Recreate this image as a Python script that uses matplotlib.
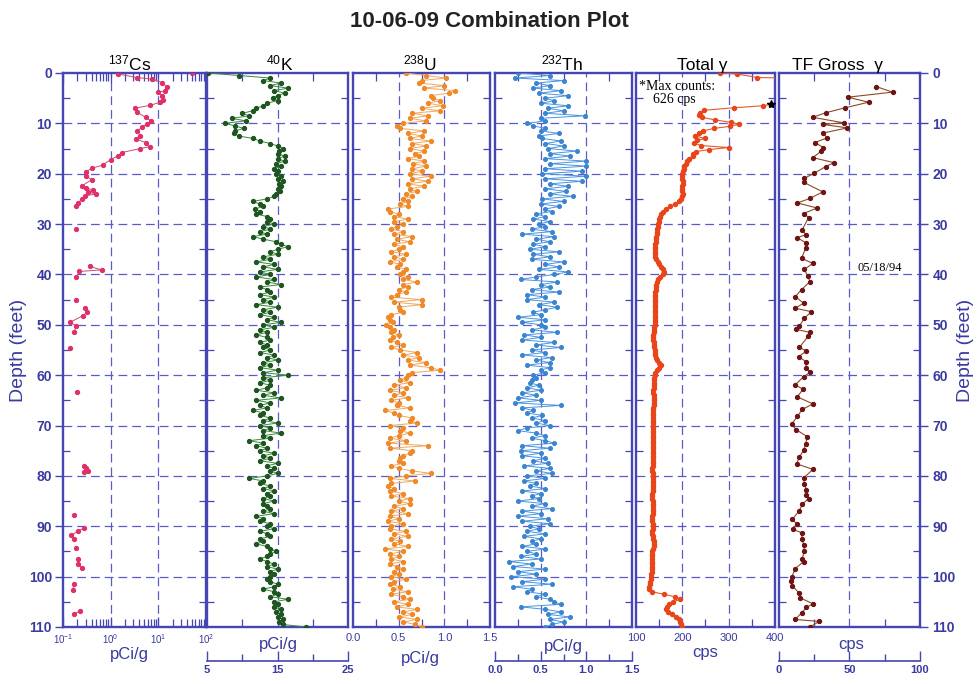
import numpy as np
import matplotlib
matplotlib.use("Agg")
import matplotlib.pyplot as plt
from matplotlib.ticker import FixedLocator, NullFormatter, LogLocator, NullLocator

plt.rcParams['font.family'] = ['Liberation Sans', 'DejaVu Sans']
plt.rcParams['mathtext.fontset'] = 'custom'
plt.rcParams['mathtext.rm'] = 'Liberation Sans'
plt.rcParams['mathtext.it'] = 'Liberation Sans:italic'
plt.rcParams['mathtext.bf'] = 'Liberation Sans:bold'

# ---------------- data ----------------
DEPTH_STEP = 0.5  # logging sample interval (ft)

# 137Cs (pCi/g), nan breaks the connecting line
cs_depth = [0.0, np.nan,
            0.2, 0.9, 1.2, 1.9, 2.8, 3.5, 3.8, 4.5, 5.3, 5.8, 6.4, 7.0, 7.8, 8.8, 9.5, 10.1, 10.8,
            11.5, 12.5, 13.1, 13.8, 14.6, 15.0, 15.8, 16.4, 17.2, 18.3, 18.9, 19.7, 20.5, 21.2,
            22.4, 22.9, 23.2, 23.7, 24.0, 24.4, 25.0, 25.8, 26.5, np.nan,
            31.0, np.nan, 38.4, 39.1, 39.4, 40.6, np.nan, 45.0, np.nan,
            46.6, 47.5, 48.2, 49.5, 50.2, 51.5, np.nan, 54.7, np.nan, 63.4, np.nan,
            78.0, 78.5, 79.0, 79.3, np.nan, 87.8, np.nan, 90.4, 90.9, 91.8, 92.5, np.nan,
            94.4, np.nan, 96.4, 97.4, 98.3, np.nan, 101.4, 102.7, np.nan, 106.8, 107.4]
cs_pci = [51.0, np.nan,
          1.45, 3.5, 7.4, 12.0, 15.1, 14.1, 10.0, 12.0, 12.6, 11.0, 6.8, 3.2, 3.6, 5.4, 7.1, 5.8, 4.5,
          3.6, 4.2, 3.4, 5.4, 6.8, 4.2, 1.7, 1.45, 1.0, 0.68, 0.40, 0.30, 0.31, 0.40,
          0.25, 0.31, 0.43, 0.34, 0.50, 0.29, 0.25, 0.21, 0.19, np.nan,
          0.19, np.nan, 0.36, 0.65, 0.22, 0.19, np.nan, 0.19, np.nan,
          0.29, 0.32, 0.26, 0.14, 0.19, 0.17, np.nan, 0.14, np.nan, 0.20, np.nan,
          0.28, 0.31, 0.33, 0.28, np.nan, 0.17, np.nan, 0.28, 0.21, 0.15, 0.17, np.nan,
          0.19, np.nan, 0.21, 0.21, 0.25, np.nan, 0.17, 0.16, np.nan, 0.23, 0.17]

# 40K (pCi/g), every 0.5 ft from 0 to 110
k_pci = [5.2, 9.5, 14.0, 13.0, 15.5, 14.0, 16.5, 14.5, 16.0, 15.0, 14.3, 15.0, 13.5, 13.0, 12.0, 11.5, 10.0, 11.0, 8.5, 10.5,
         7.5, 9.0, 10.2, 9.0, 8.8, 9.5, 11.5, 12.5, 14.0, 15.0, 15.8, 15.2, 15.0, 16.0, 15.0, 16.0, 14.8, 15.5, 14.5, 15.0,
         14.8, 15.5, 15.0, 15.8, 15.2, 15.5, 15.0, 15.3, 14.8, 14.5, 13.5, 11.5, 12.5, 13.0, 11.8, 12.5, 12.0, 13.5, 14.0, 13.5,
         14.5, 13.0, 14.0, 12.5, 13.5, 11.5, 13.0, 14.8, 15.5, 16.5, 15.0, 14.0, 15.0, 13.0, 14.0, 12.0, 14.5, 13.0, 15.0, 12.5,
         14.0, 12.0, 14.5, 13.5, 15.5, 12.5, 13.5, 14.0, 12.5, 14.5, 13.0, 14.0, 12.0, 15.0, 13.0, 14.0, 12.5, 14.5, 13.5, 15.5,
         13.0, 14.5, 12.5, 13.5, 12.0, 13.5, 14.0, 12.5, 13.5, 13.0, 14.0, 12.5, 14.5, 13.5, 15.0, 13.0, 14.0, 12.5, 15.0, 13.0,
         16.5, 13.0, 14.0, 12.5, 14.0, 13.5, 12.0, 14.5, 13.0, 15.5, 12.0, 14.0, 12.5, 13.5, 11.5, 13.0, 12.5, 14.0, 13.0, 15.0,
         12.5, 14.0, 13.0, 15.5, 13.0, 14.0, 11.0, 13.0, 12.0, 13.5, 12.5, 14.5, 13.0, 14.0, 12.5, 15.0, 13.5, 14.5, 14.0, 15.0,
         13.5, 11.0, 13.0, 12.5, 14.0, 13.0, 14.5, 13.5, 14.0, 13.0, 14.5, 13.0, 13.5, 14.0, 13.0, 14.5, 12.0, 13.0, 12.5, 14.0,
         13.5, 14.5, 12.5, 13.5, 14.0, 12.5, 13.0, 12.0, 13.5, 14.0, 14.8, 14.0, 13.5, 12.5, 13.5, 14.5, 13.5, 15.0, 14.0, 14.5,
         14.0, 13.5, 14.0, 15.0, 14.5, 13.0, 14.5, 15.0, 14.0, 16.5, 14.5, 15.0, 14.5, 15.5, 14.8, 15.5, 15.0, 15.8, 15.2, 15.8,
         19.0]

# 238U (pCi/g), every 0.5 ft
u_pci = [0.58, 0.80, 1.02, 0.75, 0.72, 1.00, 0.78, 1.12, 1.05, 0.85, 0.88, 0.95, 0.82, 0.98, 0.75, 0.95, 0.65, 0.82, 0.62, 0.80,
         0.55, 0.48, 0.52, 0.78, 0.60, 0.75, 0.62, 0.85, 0.65, 0.80, 0.62, 0.78, 0.68, 0.72, 0.60, 0.78, 0.66, 0.80, 0.65, 0.75,
         0.62, 0.85, 0.65, 0.82, 0.60, 0.78, 0.62, 0.70, 0.58, 0.65, 0.55, 0.60, 0.52, 0.60, 0.38, 0.40, 0.50, 0.45, 0.60, 0.45,
         0.55, 0.48, 0.42, 0.55, 0.45, 0.65, 0.48, 0.62, 0.45, 0.55, 0.50, 0.42, 0.58, 0.45, 0.55, 0.40, 0.52, 0.48, 0.58, 0.55,
         0.52, 0.60, 0.55, 0.70, 0.55, 0.60, 0.50, 0.58, 0.48, 0.42, 0.75, 0.45, 0.75, 0.50, 0.52, 0.55, 0.42, 0.38, 0.40, 0.44,
         0.36, 0.40, 0.45, 0.42, 0.50, 0.44, 0.40, 0.48, 0.55, 0.42, 0.52, 0.70, 0.55, 0.72, 0.60, 0.80, 0.62, 0.85, 0.95, 0.65,
         0.60, 0.58, 0.52, 0.62, 0.45, 0.58, 0.40, 0.55, 0.45, 0.60, 0.42, 0.50, 0.48, 0.62, 0.35, 0.45, 0.50, 0.65, 0.62, 0.70,
         0.40, 0.55, 0.52, 0.62, 0.50, 0.40, 0.58, 0.38, 0.82, 0.40, 0.65, 0.62, 0.55, 0.52, 0.50, 0.55, 0.42, 0.50, 0.65, 0.85,
         0.58, 0.40, 0.68, 0.42, 0.38, 0.45, 0.40, 0.55, 0.42, 0.62, 0.50, 0.62, 0.45, 0.55, 0.42, 0.60, 0.40, 0.50, 0.38, 0.55,
         0.42, 0.40, 0.58, 0.45, 0.60, 0.42, 0.52, 0.45, 0.60, 0.35, 0.55, 0.40, 0.50, 0.42, 0.55, 0.40, 0.48, 0.55, 0.45, 0.50,
         0.42, 0.58, 0.45, 0.40, 0.52, 0.44, 0.60, 0.42, 0.55, 0.62, 0.45, 0.60, 0.48, 0.70, 0.55, 0.65, 0.50, 0.70, 0.55, 0.68,
         0.75]

# 232Th (pCi/g), every 0.5 ft
th_pci = [0.25, 0.60, 0.22, 0.75, 0.45, 0.60, 0.42, 0.72, 0.48, 0.80, 0.55, 0.65, 0.50, 0.80, 0.58, 0.75, 0.55, 0.98, 0.50, 0.55,
          0.35, 0.42, 0.55, 0.50, 0.70, 0.48, 0.52, 0.72, 0.55, 0.75, 0.58, 0.90, 0.60, 0.82, 0.55, 1.00, 0.60, 1.00, 0.55, 0.95,
          0.52, 1.00, 0.55, 0.95, 0.60, 0.80, 0.55, 0.78, 0.60, 0.85, 0.52, 0.75, 0.50, 0.70, 0.55, 0.62, 0.45, 0.55, 0.42, 0.60,
          0.48, 0.55, 0.40, 0.62, 0.30, 0.65, 0.45, 0.60, 0.42, 0.55, 0.38, 0.70, 0.42, 0.60, 0.40, 0.75, 0.55, 0.70, 0.48, 0.80,
          0.65, 0.45, 0.28, 0.68, 0.50, 0.60, 0.40, 0.70, 0.35, 0.55, 0.35, 0.65, 0.48, 0.68, 0.55, 0.42, 0.50, 0.25, 0.55, 0.30,
          0.50, 0.55, 0.40, 0.68, 0.32, 0.50, 0.30, 0.65, 0.45, 0.72, 0.40, 0.55, 0.30, 0.62, 0.45, 0.60, 0.35, 0.60, 0.50, 0.55,
          0.42, 0.45, 0.40, 0.38, 0.48, 0.35, 0.50, 0.30, 0.45, 0.25, 0.50, 0.22, 0.72, 0.30, 0.42, 0.35, 0.52, 0.40, 0.55, 0.45,
          0.60, 0.35, 0.25, 0.45, 0.55, 0.40, 0.55, 0.65, 0.30, 0.60, 0.28, 0.50, 0.30, 0.55, 0.42, 0.58, 0.32, 0.60, 0.45, 0.62,
          0.35, 0.55, 0.32, 0.45, 0.38, 0.55, 0.30, 0.50, 0.40, 0.48, 0.25, 0.55, 0.40, 0.62, 0.30, 0.50, 0.25, 0.58, 0.30, 0.60,
          0.38, 0.48, 0.35, 0.55, 0.32, 0.50, 0.40, 0.45, 0.30, 0.55, 0.35, 0.45, 0.28, 0.50, 0.15, 0.40, 0.20, 0.55, 0.25, 0.45,
          0.18, 0.55, 0.30, 0.62, 0.20, 0.40, 0.35, 0.55, 0.45, 0.60, 0.65, 0.72, 0.28, 0.55, 0.72, 0.58, 0.82, 0.60, 0.75, 0.62,
          0.55]

# Total gamma (cps): upper irregular part, then every 0.5 ft from 20 ft
total_top_depth = [0.0, 0.2, 0.9, 1.3, 6.2, 6.5, 6.9, 7.4, 7.9, 8.3, 8.8, 9.3, 9.8, 10.2, 10.6, 11.0, 11.5,
                   12.0, 12.5, 13.0, 13.4, 13.9, 14.4, 14.8, 15.2, 15.6, 16.0, 16.5, 17.0, 17.5, 18.0,
                   18.5, 19.0, 19.5]
total_top_cps = [282, 318, 362, 626, 392, 374, 312, 247, 238, 236, 242, 270, 305, 322, 302, 268, 245,
                 237, 228, 248, 232, 226, 240, 300, 258, 230, 224, 222, 214, 210, 207,
                 204, 203, 201]
total_low_start = 20.0
total_low_cps = [200, 199, 200, 201, 202, 200, 199, 200, 201, 199, 197, 192, 184, 174, 165, 158, 154, 151, 150, 149,
                 148, 147, 146, 146, 145, 144, 144, 143, 142, 141, 140, 140, 141, 142, 144, 147, 150, 154, 158, 160,
                 158, 152, 147, 145, 144, 143, 143, 142, 142, 141, 141, 141, 140, 140, 141, 142, 142, 141, 141, 140,
                 140, 139, 139, 138, 137, 136, 137, 138, 138, 139, 140, 141, 142, 143, 146, 150, 153, 150, 146, 142,
                 140, 139, 139, 138, 138, 138, 137, 137, 138, 138, 139, 138, 138, 137, 137, 137, 136, 136, 137, 137,
                 137, 137, 136, 136, 136, 137, 137, 136, 136, 136, 137, 137, 137, 136, 136, 136, 136, 135, 135, 136,
                 136, 136, 137, 137, 136, 136, 136, 135, 135, 135, 136, 136, 137, 137, 136, 136, 135, 135, 135, 136,
                 136, 136, 135, 135, 136, 137, 138, 139, 138, 136, 135, 135, 134, 134, 135, 135, 134, 134, 134, 133,
                 133, 132, 131, 130, 129, 128, 135, 160, 185, 196, 180, 171, 166, 164, 170, 178, 186, 192, 196, 198,
                 200]
max_star_depth = 6.2
max_star_cps = 392

# TF Gross gamma (cps), 05/18/94 log
tf_depth = [2.7, 3.8, 4.8, 5.8, 6.9, 7.9, 8.8, 9.9, 10.2, 10.9, 11.9, 12.9, 13.8, 14.8, 15.5, 16.8, 17.8, 18.6, 19.9, 20.9,
            21.7, 23.6, 24.9, 25.8, 26.8, 27.9, 28.7, 31.1, 32.1, 32.7, 33.8, 34.7, 36.8, 37.8, 39.0, 40.4, 41.4, 43.0, 44.4, 45.7,
            46.7, 47.4, 48.7, 50.2, 50.9, 51.5, 52.3, 54.5, 55.2, 56.3, 57.4, 58.5, 59.4, 60.3, 61.9, 62.8, 64.3, 65.7, 66.8, 68.2,
            69.7, 70.8, 72.2, 73.6, 74.9, 76.2, 77.6, 78.7, 80.4, 81.6, 82.8, 83.8, 84.5, 85.6, 86.9, 88.6, 89.5, 90.6, 91.3, 92.6,
            93.8, 94.9, 96.4, 97.0, 98.4, 100.1, 100.9, 101.8, 103.2, 104.2, 105.4, 106.1, 107.2, 108.5, 108.9, 110.0]
tf_cps = [69, 80.5, 49, 63.5, 47, 33, 24, 46, 31, 48.5, 31.5, 34, 25.5, 31.5, 30, 24, 39, 33, 25, 18,
          17.5, 31, 22, 13, 27, 17.5, 21, 16.5, 19, 13, 19.5, 19, 16, 24, 18, 20.5, 22, 16, 11.5, 17.5,
          11.5, 23, 18, 14.5, 12, 22, 20.5, 14.5, 19.5, 14, 19.5, 19, 22, 17.5, 11.5, 17, 13, 24, 16.5, 13,
          9, 12, 20, 19, 17.5, 14.5, 12.5, 24, 17.5, 18, 19.5, 19.5, 21, 16.5, 14.5, 9.5, 12.5, 10, 16, 16.5,
          17.5, 18, 16.5, 17.5, 11.5, 9, 8.5, 9.5, 14, 15, 24, 19.5, 16, 11.5, 28.5, 22]

depth_ticks = list(range(0, 111, 10))

# ---------------- style ----------------
FRAME = '#4646b2'
GRID = '#5a5acc'
TXT = '#3a3aa0'
W, H = 979, 684
fig = plt.figure(figsize=(W / 100, H / 100), dpi=100)


def fax(x0, x1, y0=73, y1=627):
    return fig.add_axes([x0 / W, 1 - y1 / H, (x1 - x0) / W, (y1 - y0) / H])


def style(ax, xlim, xgrid, minor_x, log=False, labels=None):
    if log:
        ax.set_xscale('log')
    ax.set_xlim(*xlim)
    ax.set_ylim(110, 0)
    for d in depth_ticks[1:-1]:
        ax.axhline(d, color=GRID, lw=0.9, ls=(0, (7, 4)), zorder=1)
    for xv in xgrid:
        ax.axvline(xv, color=GRID, lw=0.9, ls=(0, (7, 4)), zorder=1)
    for s in ax.spines.values():
        s.set_color(FRAME)
        s.set_linewidth(1.7)
    ax.yaxis.set_major_locator(FixedLocator(depth_ticks))
    ax.yaxis.set_minor_locator(FixedLocator(list(range(5, 110, 10))))
    ax.tick_params(axis='y', which='major', left=False, right=False, labelleft=False, labelright=False)
    ax.tick_params(axis='y', which='minor', left=True, right=True, direction='in', length=5,
                   width=0.9, color=FRAME)
    if not log:
        if labels is not None:
            ax.xaxis.set_major_locator(FixedLocator(labels[0]))
            ax.set_xticklabels(labels[1])
            ax.tick_params(axis='x', which='major', length=0, pad=4, labelsize=8, labelcolor=TXT)
        else:
            ax.xaxis.set_major_locator(NullLocator())
        ax.xaxis.set_minor_locator(FixedLocator(minor_x))
        ax.tick_params(axis='x', which='minor', top=True, bottom=True, direction='in', length=6,
                       width=0.9, color=FRAME)
    ax.set_facecolor('white')


# Cs
ax_cs = fax(63, 206)
style(ax_cs, (0.1, 100), [1, 10], None, log=True)
ax_cs.xaxis.set_major_locator(LogLocator(base=10, numticks=10))
ax_cs.xaxis.set_minor_locator(LogLocator(base=10, subs=np.arange(2, 10), numticks=10))
ax_cs.xaxis.set_minor_formatter(NullFormatter())
ax_cs.tick_params(axis='x', which='both', top=True, bottom=True, direction='in', width=0.9,
                  color=FRAME, labelsize=7, labelcolor=TXT, pad=4)
ax_cs.tick_params(axis='x', which='major', length=7)
ax_cs.tick_params(axis='x', which='minor', length=6)
ax_cs.set_xlim(0.1, 100)
ax_cs.plot(cs_pci, cs_depth, '-', color='#c8506e', lw=0.7, marker='o', ms=2.8,
           mfc='#e0306a', mec='#e0306a', zorder=3)
ax_cs.set_yticks(depth_ticks, [str(v) for v in depth_ticks], fontweight='bold')
ax_cs.tick_params(axis='y', which='major', left=True, labelleft=True, direction='out', length=6,
                  width=1.0, color=FRAME, labelsize=10, labelcolor=TXT, pad=2)

# K
ax_k = fax(207, 348)
style(ax_k, (5, 25), [15], [10, 20])
k_depth = np.arange(len(k_pci)) * DEPTH_STEP
ax_k.plot(k_pci, k_depth, '-', color='#3a8a3a', lw=0.7, marker='o', ms=2.8,
          mfc='#1f5520', mec='#1f5520', zorder=3)

# U
ax_u = fax(353, 490)
style(ax_u, (0, 1.5), [0.5, 1.0], [0.25, 0.75, 1.25],
      labels=([0, 0.5, 1.0, 1.5], ['0.0', '0.5', '1.0', '1.5']))
u_depth = np.arange(len(u_pci)) * DEPTH_STEP
ax_u.plot(u_pci, u_depth, '-', color='#f0a860', lw=0.7, marker='o', ms=2.8,
          mfc='#f08a28', mec='#f08a28', zorder=3)

# Th
ax_th = fax(495, 632)
style(ax_th, (0, 1.5), [0.5, 1.0], [0.25, 0.75, 1.25])
th_depth = np.arange(len(th_pci)) * DEPTH_STEP
ax_th.plot(th_pci, th_depth, '-', color='#4a94e0', lw=0.7, marker='o', ms=2.6,
           mfc='#3a84d0', mec='#3a84d0', zorder=3)

# Total gamma
ax_tg = fax(636, 775)
style(ax_tg, (100, 400), [200, 300], [150, 250, 350],
      labels=([100, 200, 300, 400], ['100', '200', '300', '400']))
total_depth = list(total_top_depth) + list(total_low_start + np.arange(len(total_low_cps)) * DEPTH_STEP)
total_cps = list(total_top_cps) + list(total_low_cps)
ax_tg.plot(total_cps, total_depth, '-', color='#e85a2a', lw=0.8, marker='o', ms=2.9,
           mfc='#e8461a', mec='#e8461a', zorder=3)
ax_tg.plot([max_star_cps], [max_star_depth], marker='*', color='k', ms=6, ls='none', zorder=4,
           clip_on=False)
ax_tg.text(0.02, 0.988, '*Max counts:\n    626 cps', transform=ax_tg.transAxes, ha='left', va='top',
           fontsize=10, family=['Liberation Serif', 'DejaVu Serif'], linespacing=1.05, zorder=5)

# TF gross gamma
ax_tf = fax(779, 920)
style(ax_tf, (0, 100), [50], [25, 75])
ax_tf.plot(tf_cps, tf_depth, '-', color='#8a4a2a', lw=0.8, marker='o', ms=2.8,
           mfc='#6e1414', mec='#6e1414', zorder=3)
ax_tf.text(56, 38.8, '05/18/94', ha='left', va='center', fontsize=9,
           family=['Liberation Serif', 'DejaVu Serif'], zorder=5)
ax_tf.set_yticks(depth_ticks, [str(v) for v in depth_ticks], fontweight='bold')
ax_tf.tick_params(axis='y', which='major', right=True, labelright=True, left=False, labelleft=False,
                  direction='out', length=6, width=1.0, color=FRAME, labelsize=10, labelcolor=TXT, pad=3)


def sec_scale(x0, x1, xlim, major, major_lbl, minor):
    a = fig.add_axes([x0 / W, 1 - 661 / H, (x1 - x0) / W, 10 / H])
    a.set_facecolor('none')
    for k in ['top', 'left', 'right']:
        a.spines[k].set_visible(False)
    a.spines['bottom'].set_color(FRAME)
    a.spines['bottom'].set_linewidth(1.2)
    a.set_xlim(*xlim)
    a.set_yticks([])
    a.set_xticks(major, major_lbl)
    a.xaxis.set_minor_locator(FixedLocator(minor))
    a.tick_params(axis='x', which='major', direction='in', length=7, width=1.0, color=FRAME,
                  labelsize=8, labelcolor=TXT, pad=3)
    a.tick_params(axis='x', which='minor', direction='in', length=5, width=1.0, color=FRAME)
    for lbl in a.get_xticklabels():
        lbl.set_fontweight('bold')
    return a


sec_scale(207, 348, (5, 25), [5, 15, 25], ['5', '15', '25'], [10, 20])
sec_scale(495, 632, (0, 1.5), [0, 0.5, 1.0, 1.5], ['0.0', '0.5', '1.0', '1.5'], [0.25, 0.75, 1.25])
sec_scale(779, 920, (0, 100), [0, 50, 100], ['0', '50', '100'], [25, 75])


def ftext(x, y, s, **kw):
    fig.text(x / W, 1 - y / H, s, **kw)


ftext(129, 655, 'pCi/g', ha='center', va='center', fontsize=12, color=TXT)
ftext(278, 645, 'pCi/g', ha='center', va='center', fontsize=12, color=TXT)
ftext(420, 658, 'pCi/g', ha='center', va='center', fontsize=12, color=TXT)
ftext(563, 647, 'pCi/g', ha='center', va='center', fontsize=12, color=TXT)
ftext(705, 652, 'cps', ha='center', va='center', fontsize=12, color=TXT)
ftext(851, 645, 'cps', ha='center', va='center', fontsize=12, color=TXT)

ftext(130, 70, r'$^{137}$Cs', ha='center', va='baseline', fontsize=12.5)
ftext(280, 70, r'$^{40}$K', ha='center', va='baseline', fontsize=12.5)
ftext(420, 70, r'$^{238}$U', ha='center', va='baseline', fontsize=12.5)
ftext(562, 70, r'$^{232}$Th', ha='center', va='baseline', fontsize=12.5)
ftext(702, 70, 'Total γ', ha='center', va='baseline', fontsize=12.5)
ftext(838, 70, 'TF Gross  γ', ha='center', va='baseline', fontsize=12.5)

ftext(19, 350, 'Depth (feet)', ha='center', va='center', rotation=90, fontsize=14, color=TXT)
ftext(966, 350, 'Depth (feet)', ha='center', va='center', rotation=90, fontsize=14, color=TXT)

ftext(489, 27, '10-06-09 Combination Plot', ha='center', va='baseline', fontsize=16,
      fontweight='bold', color='#222222')

fig.savefig('out.png', dpi=100)
